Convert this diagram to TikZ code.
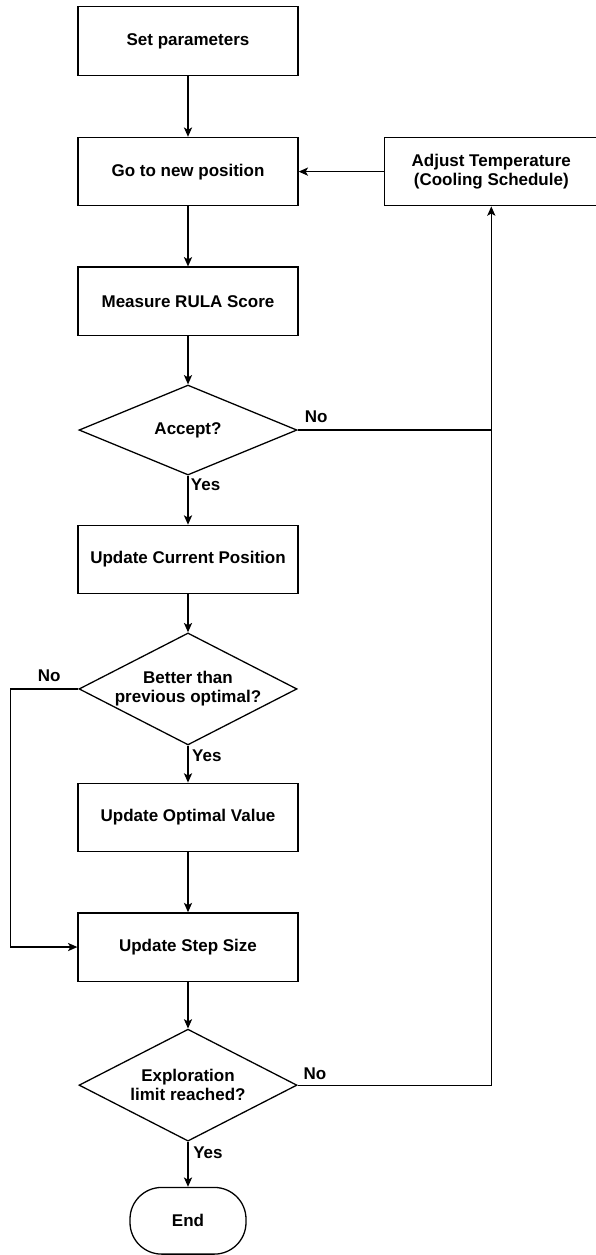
\documentclass[tikz,border=0pt]{standalone}
\usepackage{fontspec}
\setmainfont{Liberation Sans}
\usepackage{tikz}
\usetikzlibrary{calc, shapes.geometric, arrows.meta, positioning}

\begin{document}
\begin{tikzpicture}[
        node distance = 1.5cm and 2.5cm,
        base/.style = {draw, line width=1.1pt, align=center, font=\fontsize{14.5}{16}\selectfont\bfseries},
        stepbox/.style = {base, rectangle, minimum width=6.6cm, minimum height=2.05cm},
        decision/.style = {base, diamond, aspect=2, inner sep=0pt, minimum width=6.54cm},
        terminal/.style = {base, rectangle, rounded corners=0.95cm, minimum width=3.48cm, minimum height=2.0cm},
        lbl/.style = {font=\fontsize{14.5}{16}\selectfont\bfseries, inner sep=0.2cm},
        arrow/.style = {draw=black, line width=1.1pt, -{Stealth[length=8pt, width=7pt, inset=2pt]}},
        line/.style = {draw=black, line width=1.1pt}
    ]

        \useasboundingbox (0,0) rectangle (17.88,-37.65);

        % Main column
        \node (setp) [stepbox] at (5.64,-1.23) {Set parameters};
        \node (gopos) [stepbox, below=1.83cm of setp] {Go to new position};
        \node (rula) [stepbox, below=1.8cm of gopos] {Measure RULA Score};
        \node (accept) [decision, minimum height=2.7cm, below=1.45cm of rula] {Accept?};
        \node (updcur) [stepbox, below=1.47cm of accept] {Update Current Position};
        \node (better) [decision, minimum height=3.36cm, below=1.14cm of updcur] {Better than\\previous optimal?};
        \node (updopt) [stepbox, below=1.11cm of better] {Update Optimal Value};
        \node (stepsize) [stepbox, below=1.8cm of updopt] {Update Step Size};
        \node (explore) [decision, minimum height=3.36cm, below=1.4cm of stepsize] {Exploration\\limit reached?};
        \node (finish) [terminal, below=1.35cm of explore] {End};

        % Cooling loop
        \node (adjust) [stepbox, minimum width=6.42cm, right=2.55cm of gopos] {Adjust Temperature\\(Cooling Schedule)};

        % Arrows
        \draw [arrow] (setp) -- (gopos);
        \draw [arrow] (gopos) -- (rula);
        \draw [arrow] (rula) -- (accept);
        \draw [arrow] (accept) -- node[lbl, pos=0, below right, inner sep=2pt] (yesA) {Yes} (updcur);
        \draw [arrow] (updcur) -- (better);
        \draw [arrow] (better) -- node[lbl, pos=0, below right, inner sep=3pt] (yesB) {Yes} (updopt);
        \draw [arrow] (updopt) -- (stepsize);
        \draw [arrow] (stepsize) -- (explore);
        \draw [arrow] (explore) -- node[lbl, pos=0, below right, inner sep=4pt] (yesC) {Yes} (finish);

        \coordinate (leftBend) at ($(better.west) + (-2.04cm,0)$);
        \draw [arrow] (better.west) -- node[lbl, pos=0.43, above] (noB) {No} (leftBend) |- (stepsize.west);

        \coordinate (joinA) at (accept.east -| adjust.south);
        \draw [line] (accept.east) -- node[lbl, pos=0, above right] (noA) {No} (joinA);
        \draw [arrow] (explore.east) -- node[lbl, pos=0, above right, inner sep=0.16cm] (noC) {No} (explore.east -| adjust.south) -- (adjust.south);
        \draw [arrow] (adjust) -- (gopos);

    \end{tikzpicture}
\end{document}
